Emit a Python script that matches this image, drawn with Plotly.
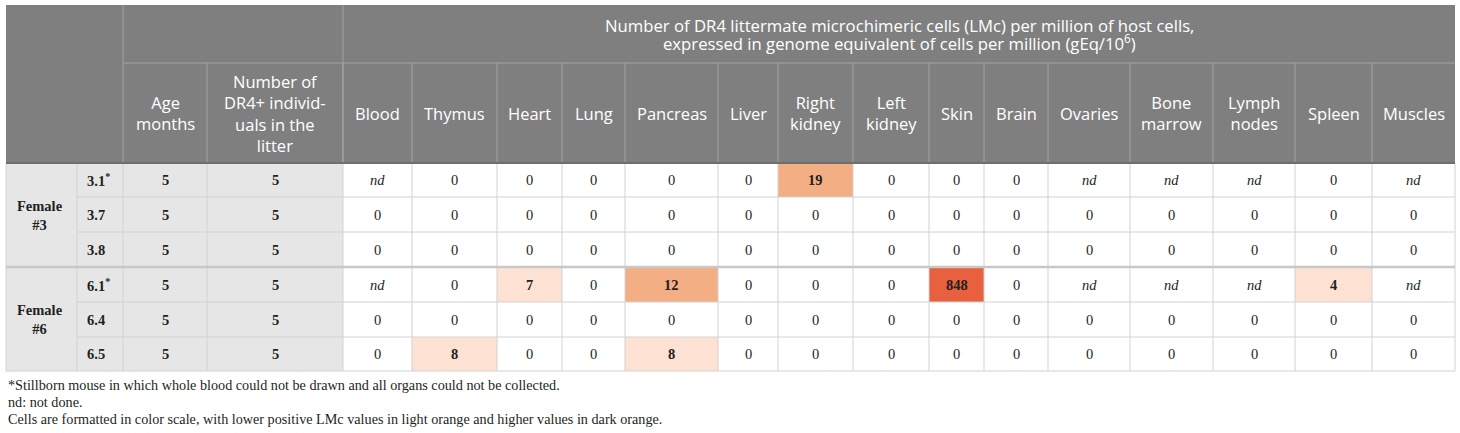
import plotly.graph_objects as go

# table content
groups = ["Female<br>#3", "Female<br>#6"]
group_sizes = [3, 3]
ids = ["3.1<sup>*</sup>", "3.7", "3.8", "6.1<sup>*</sup>", "6.4", "6.5"]
ages = [5, 5, 5, 5, 5, 5]
litter = [5, 5, 5, 5, 5, 5]
organs = ["Blood", "Thymus", "Heart", "Lung", "Pancreas", "Liver", "Right<br>kidney",
          "Left<br>kidney", "Skin", "Brain", "Ovaries", "Bone<br>marrow", "Lymph<br>nodes",
          "Spleen", "Muscles"]
nd = None
lmc = [
    [nd, 0, 0, 0, 0, 0, 19, 0, 0, 0, nd, nd, nd, 0, nd],
    [0, 0, 0, 0, 0, 0, 0, 0, 0, 0, 0, 0, 0, 0, 0],
    [0, 0, 0, 0, 0, 0, 0, 0, 0, 0, 0, 0, 0, 0, 0],
    [nd, 0, 7, 0, 12, 0, 0, 0, 848, 0, nd, nd, nd, 4, nd],
    [0, 0, 0, 0, 0, 0, 0, 0, 0, 0, 0, 0, 0, 0, 0],
    [0, 8, 0, 0, 8, 0, 0, 0, 0, 0, 0, 0, 0, 0, 0],
]
title_lines = ["Number of DR4 littermate microchimeric cells (LMc) per million of host cells,",
               "expressed in genome equivalent of cells per million (gEq/10<sup>6</sup>)"]
age_header = "Age<br>months"
litter_header = "Number of<br>DR4+ individ-<br>uals in the<br>litter"
footnotes = ["*Stillborn mouse in which whole blood could not be drawn and all organs could not be collected.",
             "nd: not done.",
             "Cells are formatted in color scale, with lower positive LMc values in light orange and higher values in dark orange."]

# layout of the table (pixels)
col_edges = [6, 77, 123, 207, 343, 412, 497, 562, 625, 718, 778, 853, 929, 984,
             1048, 1130, 1213, 1295, 1372, 1455]
row_edges = [5, 63, 163, 197, 232, 267, 302, 337, 371]

HEAD_BG = "#7f7f7f"
HEAD_LINE = "#a3a3a3"
LABEL_BG = "#e7e6e6"
GRID = "#d2d2d2"
TXT = "#231f20"
SANS = "Open Sans"
SERIF = "Liberation Serif"


def cell_color(v):
    if v is None or v == 0:
        return "white"
    if v < 10:
        return "#fde2d4"
    if v < 100:
        return "#f4ae84"
    return "#e8603e"


fig = go.Figure()
shapes = []
annots = []


def rect(x0, x1, y0, y1, fill):
    shapes.append(dict(type="rect", x0=x0, x1=x1, y0=y0, y1=y1, fillcolor=fill,
                       line=dict(width=0), layer="below"))


def line(x0, y0, x1, y1, color, w=1):
    shapes.append(dict(type="line", x0=x0, y0=y0, x1=x1, y1=y1,
                       line=dict(color=color, width=w)))


def text(x, y, s, size=14.5, family=SERIF, color=TXT, anchor="center"):
    annots.append(dict(x=x, y=y, text=s, showarrow=False, xanchor=anchor, yanchor="middle",
                       font=dict(size=size, family=family, color=color)))


left, right = col_edges[0], col_edges[-1]
head_top, head_mid, head_bot = row_edges[0], row_edges[1], row_edges[2]
body_bot = row_edges[-1]

# header block
rect(left, right, head_top, head_bot, HEAD_BG)
line(col_edges[2], head_mid, right, head_mid, HEAD_LINE)
line(col_edges[2], head_top, col_edges[2], head_bot, HEAD_LINE)
line(col_edges[4], head_top, col_edges[4], head_bot, HEAD_LINE)
for c in range(3, len(col_edges) - 1):
    line(col_edges[c], head_mid, col_edges[c], head_bot, HEAD_LINE)

tcx = (col_edges[4] + right) / 2
tcy = (head_top + head_mid) / 2
for i, s in enumerate(title_lines):
    text(tcx, tcy + (i - 0.5) * 17, s, size=16.7, family=SANS, color="white")

hcy = (head_mid + head_bot) / 2
text((col_edges[2] + col_edges[3]) / 2, hcy, age_header, size=16.5, family=SANS, color="white")
text((col_edges[3] + col_edges[4]) / 2, hcy, litter_header, size=16.5, family=SANS, color="white")
for j, name in enumerate(organs):
    text((col_edges[4 + j] + col_edges[5 + j]) / 2, hcy, name, size=16.5, family=SANS, color="white")

# label area and data cells
rect(left, col_edges[4], head_bot, body_bot, LABEL_BG)
for r, row in enumerate(lmc):
    y0, y1 = row_edges[2 + r], row_edges[3 + r]
    cy = (y0 + y1) / 2
    for j, v in enumerate(row):
        x0, x1 = col_edges[4 + j], col_edges[5 + j]
        rect(x0, x1, y0, y1, cell_color(v))
        if v is None:
            s = "<i>nd</i>"
        elif v > 0:
            s = "<b>%d</b>" % v
        else:
            s = "%d" % v
        text((x0 + x1) / 2, cy, s)
    text(col_edges[1] + 8, cy, "<b>%s</b>" % ids[r], anchor="left")
    text((col_edges[2] + col_edges[3]) / 2, cy, "<b>%d</b>" % ages[r])
    text((col_edges[3] + col_edges[4]) / 2, cy, "<b>%d</b>" % litter[r])

# grid lines in the body
for c in range(1, len(col_edges) - 1):
    line(col_edges[c], head_bot, col_edges[c], body_bot, GRID)
line(left, head_bot, left, body_bot, GRID)
line(right, head_bot, right, body_bot, GRID)
start = 0
group_rows = []
for g, n in enumerate(group_sizes):
    group_rows.append((start, start + n))
    start += n
for r in range(1, len(lmc)):
    y = row_edges[2 + r]
    is_group_edge = any(r == a for a, b in group_rows)
    if is_group_edge:
        line(left, y, right, y, "#c8c8c8", 2.5)
    else:
        line(col_edges[1], y, right, y, GRID)
line(left, body_bot, right, body_bot, GRID)
line(left, head_bot, right, head_bot, "#6e6e6e", 2)

for g, (a, b) in enumerate(group_rows):
    gy = (row_edges[2 + a] + row_edges[2 + b]) / 2
    text(left + 9, gy, "<b>%s</b>" % groups[g], anchor="left")

# footnotes
for i, s in enumerate(footnotes):
    text(left, body_bot + 14 + i * 17, s, size=14.2, anchor="left")

fig.update_layout(
    width=1460, height=433,
    margin=dict(l=0, r=0, t=0, b=0),
    paper_bgcolor="white", plot_bgcolor="white",
    xaxis=dict(range=[0, 1460], visible=False, fixedrange=True),
    yaxis=dict(range=[433, 0], visible=False, fixedrange=True),
    shapes=shapes, annotations=annots,
    showlegend=False,
)

fig.write_html("out.html", config={"displayModeBar": False},
               post_script="document.body.style.margin='0px';")
